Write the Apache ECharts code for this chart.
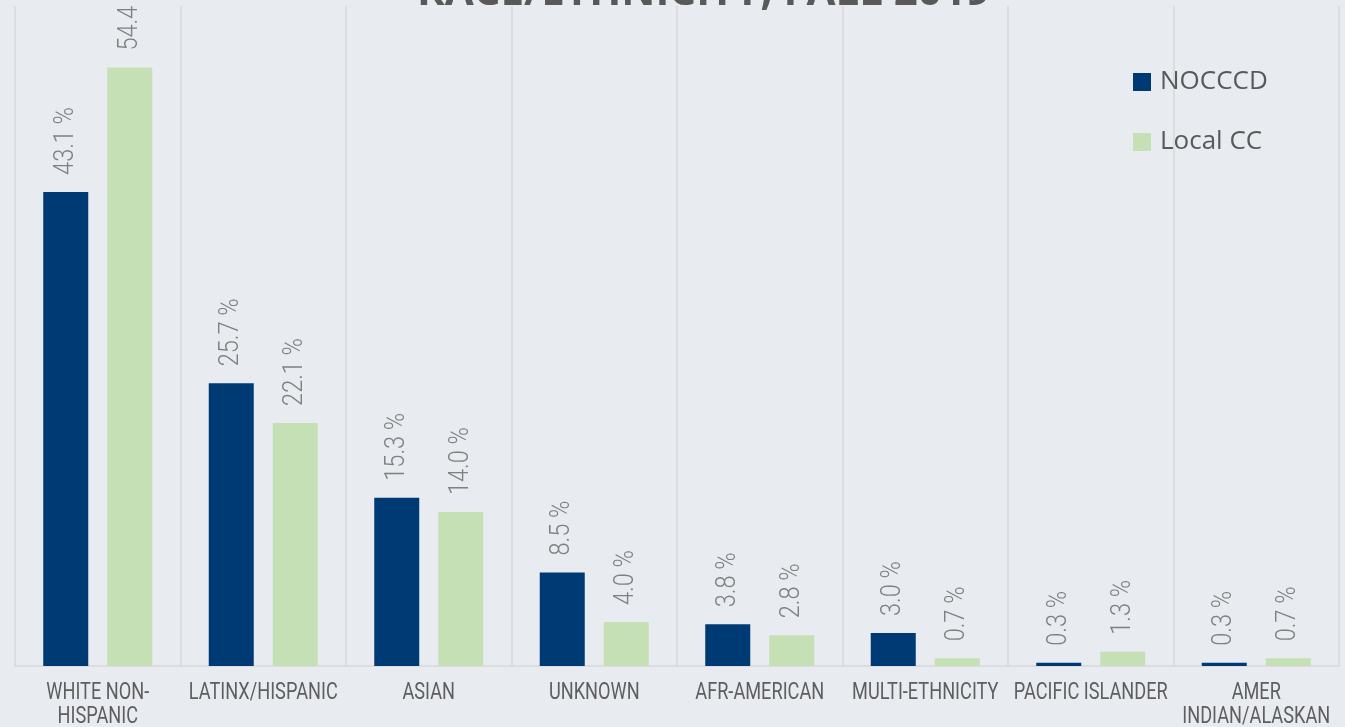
<!DOCTYPE html>
<html>
<head>
<meta charset="utf-8">
<title>Race/Ethnicity, Fall 2019</title>
<script src="https://cdn.jsdelivr.net/npm/echarts@6/dist/echarts.min.js"></script>
<style>
  html, body { margin: 0; padding: 0; background: #E8EBF0; }
  #chart { width: 1345px; height: 727px; }
</style>
</head>
<body>
<div id="chart"></div>
<script>
// Student headcount share by race/ethnicity (percent)
const categories = [
  'WHITE NON-\nHISPANIC',
  'LATINX/HISPANIC',
  'ASIAN',
  'UNKNOWN',
  'AFR-AMERICAN',
  'MULTI-ETHNICITY',
  'PACIFIC ISLANDER',
  'AMER\nINDIAN/ALASKAN'
];
const nocccd  = [43.1, 25.7, 15.3, 8.5, 3.8, 3.0, 0.3, 0.3];
const localCC = [54.4, 22.1, 14.0, 4.0, 2.8, 0.7, 1.3, 0.7];

// bar geometry (px)
const BAR_W = 45;
const BAR_GAP = 19;
const PAIR_OFFSET = (BAR_W + BAR_GAP) / 2;

const chart = echarts.init(document.getElementById('chart'));

// Condensed-looking text: Roboto squeezed horizontally along the text direction.
function valueText(x, y, v) {
  return {
    type: 'text',
    x: x,
    y: y,
    rotation: Math.PI / 2,
    scaleX: 0.84,
    style: {
      text: v.toFixed(1) + ' %',
      fill: '#808080',
      font: '300 28px Roboto',
      align: 'left',
      verticalAlign: 'middle'
    }
  };
}

function categoryText(x, y, line) {
  return {
    type: 'text',
    x: x,
    y: y,
    scaleX: 0.79,
    style: {
      text: line,
      fill: '#5E5E5E',
      font: '400 23px Roboto',
      align: 'center',
      verticalAlign: 'middle'
    }
  };
}

const labelData = categories.map((c, i) => [i, nocccd[i], localCC[i]]);

chart.setOption({
  backgroundColor: '#E8EBF0',
  animation: false,
  title: {
    text: 'RACE/ETHNICITY, FALL 2019',
    left: 417,
    top: -28,
    padding: 0,
    textStyle: {
      color: '#595959',
      fontFamily: 'Open Sans',
      fontWeight: 700,
      fontSize: 42
    }
  },
  legend: {
    orient: 'vertical',
    left: 1133,
    top: 69,
    padding: 0,
    itemWidth: 18,
    itemHeight: 18,
    itemGap: 34,
    icon: 'rect',
    textStyle: {
      color: '#595959',
      fontFamily: 'Open Sans',
      fontSize: 26,
      lineHeight: 26,
      padding: [0, 0, 0, 4]
    },
    data: ['NOCCCD', 'Local CC']
  },
  grid: {
    left: 15,
    right: 6,
    top: 6,
    bottom: 61,
    containLabel: false
  },
  xAxis: {
    type: 'category',
    data: categories,
    axisTick: { show: false },
    axisLine: { show: true, lineStyle: { color: '#D9D9D9', width: 1.5 } },
    splitLine: { show: true, interval: 0, lineStyle: { color: '#D9D9D9', width: 1.5 } },
    axisLabel: { show: false }
  },
  yAxis: {
    type: 'value',
    min: 0,
    max: 60,
    show: false,
    splitLine: { show: false }
  },
  series: [
    {
      name: 'NOCCCD',
      type: 'bar',
      data: nocccd,
      barWidth: BAR_W,
      barGap: (BAR_GAP / BAR_W * 100) + '%',
      itemStyle: { color: '#003A75' }
    },
    {
      name: 'Local CC',
      type: 'bar',
      data: localCC,
      barWidth: BAR_W,
      itemStyle: { color: '#C5E0B4' }
    },
    {
      // value labels above each bar and the category names under the axis
      name: 'labels',
      type: 'custom',
      silent: true,
      clip: false,
      data: labelData,
      encode: { x: 0, y: 1 },
      renderItem: function (params, api) {
        const i = api.value(0);
        const a = api.value(1);
        const b = api.value(2);
        const pa = api.coord([i, a]);
        const pb = api.coord([i, b]);
        const base = api.coord([i, 0]);
        const children = [
          valueText(pa[0] - PAIR_OFFSET, pa[1] - 17, a),
          valueText(pb[0] + PAIR_OFFSET, pb[1] - 17, b)
        ];
        categories[i].split('\n').forEach((line, k) => {
          children.push(categoryText(base[0], base[1] + 27.5 + k * 24, line));
        });
        return { type: 'group', children: children };
      }
    }
  ]
});
</script>
</body>
</html>
